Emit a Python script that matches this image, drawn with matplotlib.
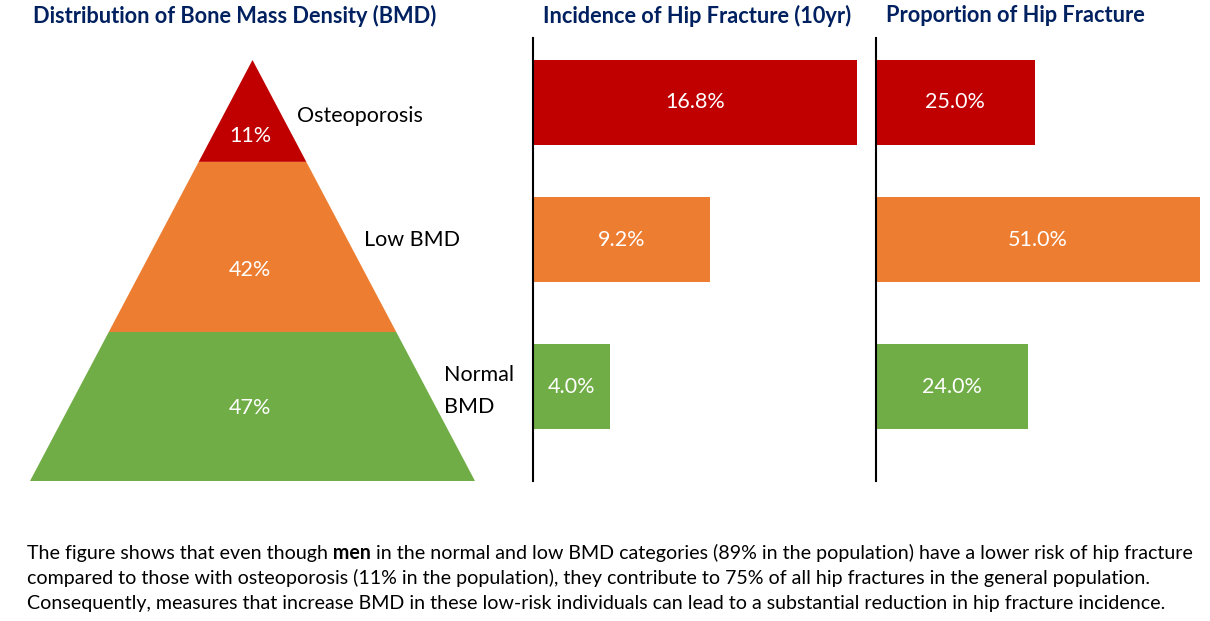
import numpy as np
import matplotlib
matplotlib.use('Agg')
import matplotlib.pyplot as plt

# data
categories = ['Osteoporosis', 'Low BMD', 'Normal\nBMD']
bmd_share = [11, 42, 47]            # % of population
incidence_10yr = [16.8, 9.2, 4.0]   # % hip fracture incidence
proportion = [25.0, 51.0, 24.0]     # % of all hip fractures
colors = ['#C00000', '#ED7D31', '#70AD47']

navy = '#002060'
W, H = 1210, 621
plt.rcParams['font.family'] = ['Lato', 'DejaVu Sans']


def fx(px):
    return px / W


def fy(py):
    return 1 - py / H


fig = plt.figure(figsize=(W / 100, H / 100), dpi=100)

# pyramid
axp = fig.add_axes([fx(30), fy(481), fx(475) - fx(30), fy(60) - fy(481)])
axp.set_xlim(0, 1)
axp.set_ylim(0, 1)
axp.axis('off')
bounds = [1.0, 0.758, 0.354, 0.0]   # band edges (top to bottom), layout only
label_frac = [0.25, 0.365, 0.49]    # where the % sits inside each band
for i in range(3):
    top, bot = bounds[i], bounds[i + 1]
    xs = [0.5 - 0.5 * (1 - bot), 0.5 + 0.5 * (1 - bot), 0.5 + 0.5 * (1 - top), 0.5 - 0.5 * (1 - top)]
    axp.fill(xs, [bot, bot, top, top], color=colors[i], lw=0)
    ymid = bot + (top - bot) * label_frac[i]
    axp.text(0.495, ymid, '{}%'.format(bmd_share[i]), color='white', fontsize=15.5,
             ha='center', va='center')

label_pos = [(297, 116), (364, 240), (444, 391)]
for lab, (px, py) in zip(categories, label_pos):
    fig.text(fx(px), fy(py), lab, fontsize=15.5, ha='left', va='center', linespacing=1.8)

# bar charts
ypos = np.array([0, 137, 284]) / 142.0
for left, right, vals, xmax_val in [(533, 863, incidence_10yr, 16.8), (876, 1210, proportion, 51.0)]:
    ax = fig.add_axes([fx(left), fy(481), fx(right) - fx(left), fy(38) - fy(481)])
    ax.barh(ypos, vals, height=0.6, color=colors)
    scale = (right - left) / (857 - 533 if left == 533 else 1200 - 876)
    ax.set_xlim(0, xmax_val * scale)
    ax.set_ylim(2.665, -0.454)
    for s in ['top', 'right', 'bottom']:
        ax.spines[s].set_visible(False)
    ax.spines['left'].set_linewidth(1.5)
    ax.set_xticks([])
    ax.set_yticks([])
    for y, v in zip(ypos, vals):
        ax.text(v / 2, y, '{:.1f}%'.format(v), color='white', fontsize=15.5,
                ha='center', va='center')

# titles
fig.text(fx(33), fy(16), 'Distribution of Bone Mass Density (BMD)', fontsize=15.7,
         fontweight='bold', color=navy, ha='left', va='center')
fig.text(fx(543), fy(16), 'Incidence of Hip Fracture (10yr)', fontsize=15.7,
         fontweight='bold', color=navy, ha='left', va='center')
fig.text(fx(886), fy(16), 'Proportion of Hip Fracture', fontsize=15.7,
         fontweight='bold', color=navy, ha='left', va='center')

# caption with bold word
body = 14.1
renderer = fig.canvas.get_renderer()
t1 = fig.text(fx(27), fy(559), 'The figure shows that even though', fontsize=body, va='baseline')
x1 = t1.get_window_extent(renderer).x1
t2 = fig.text(x1 / W, fy(559), ' men', fontsize=body, fontweight='bold', va='baseline')
x2 = t2.get_window_extent(renderer).x1
fig.text(x2 / W, fy(559), ' in the normal and low BMD categories (89% in the population) have a lower risk of hip fracture',
         fontsize=body, va='baseline')
fig.text(fx(27), fy(584), 'compared to those with osteoporosis (11% in the population), they contribute to 75% of all hip fractures in the general population.',
         fontsize=body, va='baseline')
fig.text(fx(27), fy(609), 'Consequently, measures that increase BMD in these low-risk individuals can lead to a substantial reduction in hip fracture incidence.',
         fontsize=body, va='baseline')

fig.savefig('out.png', dpi=100, facecolor='white')
